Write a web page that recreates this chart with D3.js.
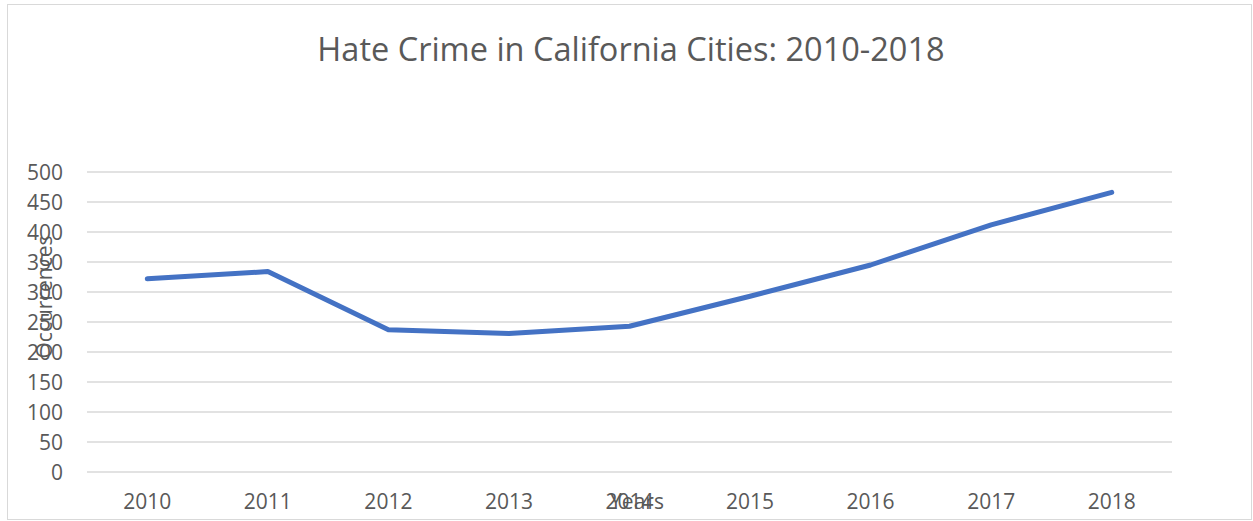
<!DOCTYPE html>
<html><head><meta charset="utf-8">
<script src="https://cdn.jsdelivr.net/npm/d3@7"></script>
<style>body{margin:0;background:#fff}svg{display:block}text{font-family:"Open Sans","Noto Sans",sans-serif;fill:#595959}</style>
</head><body>
<svg id="c" width="1253" height="521"></svg>
<script>
const years = ["2010","2011","2012","2013","2014","2015","2016","2017","2018"];
const occurrences = [322, 334, 237, 231, 243, 293, 345, 412, 466];
const yTicks = [0,50,100,150,200,250,300,350,400,450,500];
const title = "Hate Crime in California Cities: 2010-2018";

(function(){
const svg = d3.select("#c");
svg.append("rect").attr("x",7.5).attr("y",4.5).attr("width",1244).attr("height",515)
  .attr("fill","#fff").attr("stroke","#d9d9d9").attr("stroke-width",1);

const mL = 87, mR = 1172, mT = 172, mB = 472;
const x = d3.scaleBand().domain(years).range([mL,mR]);
const y = d3.scaleLinear().domain([0,500]).range([mB,mT]);

const grid = svg.append("g");
grid.selectAll("line").data(yTicks).join("line")
  .attr("x1",mL).attr("x2",mR).attr("y1",d=>y(d)).attr("y2",d=>y(d))
  .attr("stroke","#d9d9d9").attr("stroke-width",1.5);

const yAxis = svg.append("g").attr("transform",`translate(${mL-24},0)`)
  .call(d3.axisLeft(y).tickValues(yTicks).tickSize(0).tickPadding(0));
yAxis.select(".domain").remove();
yAxis.selectAll("text").attr("font-size",21).attr("fill","#595959").attr("dy","0.36em");

const xAxis = svg.append("g").attr("transform",`translate(0,${mB})`)
  .call(d3.axisBottom(x).tickSize(0).tickPadding(0));
xAxis.select(".domain").remove();
xAxis.selectAll("text").attr("font-size",21).attr("fill","#595959").attr("dy",null).attr("y",37);

const line = d3.line().x((d,i)=>x(years[i])+x.bandwidth()/2).y(d=>y(d));
svg.append("path").datum(occurrences).attr("d",line)
  .attr("fill","none").attr("stroke","#4472C4").attr("stroke-width",5)
  .attr("stroke-linecap","round").attr("stroke-linejoin","round");

svg.append("text").attr("x",631).attr("y",61).attr("text-anchor","middle")
  .attr("font-size",32.5).text(title);
svg.append("text").attr("transform","translate(44,297) rotate(-90)")
  .attr("text-anchor","middle").attr("dy","0.36em").attr("font-size",21).text("Occurrences");
svg.append("text").attr("x",637).attr("y",509).attr("text-anchor","middle")
  .attr("font-size",21).text("Years");
})();
</script>
</body></html>
